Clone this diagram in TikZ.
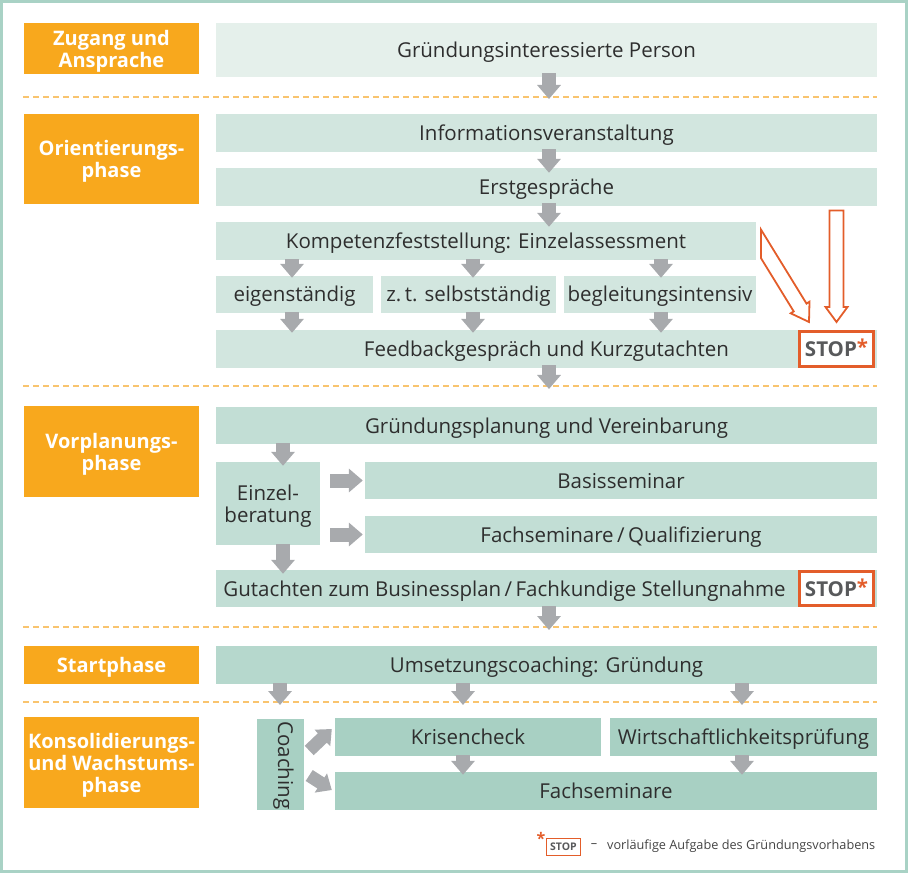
\documentclass[tikz,border=0pt]{standalone}
\usepackage{fontspec}
\setmainfont{Open Sans}
\usetikzlibrary{arrows.meta}
\definecolor{framec}{HTML}{A9D2C5}
\definecolor{orangec}{HTML}{F8A81D}
\definecolor{dashc}{HTML}{F9C46E}
\definecolor{fa}{HTML}{E5F0EB}
\definecolor{fb}{HTML}{D2E6DF}
\definecolor{fc}{HTML}{C2DED5}
\definecolor{fd}{HTML}{B6D8CD}
\definecolor{fe}{HTML}{A8D0C3}
\definecolor{arrowc}{HTML}{A8AAAD}
\definecolor{stopc}{HTML}{E35D2A}
\definecolor{stoptext}{HTML}{58595B}
\definecolor{textc}{HTML}{2E2E2E}
\definecolor{legc}{HTML}{444444}
\begin{document}
\begin{tikzpicture}[x=1pt,y=-1pt,
  basebox/.style={rectangle, inner sep=0pt, text=textc, font=\fontsize{20.5}{22}\selectfont},
  box/.style={basebox, text height=15pt, text depth=0pt},
  phase/.style={rectangle, inner sep=0pt, fill=orangec, text=white, align=center,
     minimum width=175pt, text depth=0pt, font=\bfseries\fontsize{20}{22}\selectfont},
  stopbox/.style={rectangle, inner sep=0pt, draw=stopc, line width=2.6pt, fill=white,
     minimum width=74pt, text=stoptext, text height=15pt, text depth=0pt,
     font=\bfseries\fontsize{20.5}{22}\selectfont},
  garrow/.style={draw=arrowc, line width=14pt, -{Triangle[length=14pt,width=23pt]}},
  sarrow/.style={draw=stopc, line width=1.8pt, line join=miter},
  sepline/.style={draw=dashc, line width=2pt, dash pattern=on 6pt off 4pt}
]
\useasboundingbox (0,0) rectangle (910,874);
\draw[framec, line width=3pt] (1.5,1.5) rectangle (906,871.5);

% phase labels
\node[phase, minimum height=51pt] (pz) at (111.5,48.5) {Zugang und\\Ansprache};
\node[phase, minimum height=90pt] (po) at (111.5,159) {Orientierungs-\\phase};
\node[phase, minimum height=91pt] (pv) at (111.5,451.5) {Vorplanungs-\\phase};
\node[phase, minimum height=38pt, text height=14.5pt] (ps) at (111.5,665) {Startphase};
\node[phase, minimum height=91pt] (pk) at (111.5,762.5) {Konsolidierungs-\\und Wachstums-\\phase};

% separators
\coordinate (d1) at (23,97);
\coordinate (d2) at (23,386);
\coordinate (d3) at (23,627);
\coordinate (d4) at (23,702);
\foreach \d in {d1,d2,d3,d4} \draw[sepline] (\d) -- (\d -| 877,0);
% arrow ends on the separators
\coordinate (e1) at (549,99);
\coordinate (e2) at (549,389);
\coordinate (e3) at (549,630);
\coordinate (e4a) at (280,705);
\coordinate (e4b) at (463,705);
\coordinate (e4c) at (742,705);

% boxes
\node[box, fill=fa, minimum width=661pt, minimum height=54pt] (person) at (546.5,50) {Gründungsinteressierte Person};
\node[box, fill=fb, minimum width=661pt, minimum height=38pt] (info) at (546.5,133) {Informationsveranstaltung};
\node[box, fill=fb, minimum width=661pt, minimum height=38pt] (erst) at (546.5,187) {Erstgespräche};
\node[box, fill=fb, minimum width=540pt, minimum height=38pt] (komp) at (486,241) {Kompetenzfeststellung: Einzelassessment};
\node[box, fill=fb, minimum width=157pt, minimum height=37pt] (eig) at (294.5,294.5) {eigenständig};
\node[box, fill=fb, minimum width=175pt, minimum height=37pt] (zt) at (468.5,294.5) {z.\,t. selbstständig};
\node[box, fill=fb, minimum width=192pt, minimum height=37pt] (beg) at (660,294.5) {begleitungsintensiv};
\node[box, fill=fb, minimum width=661pt, minimum height=38pt] (feed) at (546.5,349) {Feedbackgespräch und Kurzgutachten};
\node[stopbox, minimum height=35.5pt] (stopa) at (836.5,349) {STOP\textcolor{stopc}{\raisebox{2pt}{*}}};

\node[box, fill=fc, minimum width=661pt, minimum height=37pt] (plan) at (546.5,425.5) {Gründungsplanung und Vereinbarung};
\node[basebox, fill=fc, minimum width=104pt, minimum height=83pt, align=center, text depth=0pt] (einzel) at (268,503.5) {Einzel-\\beratung};
\node[box, fill=fc, minimum width=512pt, minimum height=37pt] (basis) at (621,480.5) {Basisseminar};
\node[box, fill=fc, minimum width=512pt, minimum height=37pt] (fachq) at (621,534.5) {Fachseminare\,/\,Qualifizierung};
\node[box, fill=fc, minimum width=661pt, minimum height=37pt] (gut) at (546.5,588.5) {};
\node[box] (guttext) at (504.5,588.5) {Gutachten zum Businessplan\,/\,Fachkundige Stellungnahme};
\node[stopbox, minimum height=34.5pt] (stopb) at (836.5,588.5) {STOP\textcolor{stopc}{\raisebox{2pt}{*}}};

\node[box, fill=fd, minimum width=661pt, minimum height=38pt] (ums) at (546.5,665) {Umsetzungscoaching: Gründung};

\node[box, fill=fe, minimum width=47pt, minimum height=91pt] (coach) at (280.5,764.5) {};
\node[box, rotate=-90] (coachtext) at (285.5,765.5) {Coaching};
\node[box, fill=fe, minimum width=266pt, minimum height=38pt] (kris) at (468,737) {Krisencheck};
\node[box, fill=fe, minimum width=267pt, minimum height=38pt] (wirt) at (743.5,737) {Wirtschaftlichkeitsprüfung};
\node[box, fill=fe, minimum width=542pt, minimum height=38pt] (fach) at (606,791) {Fachseminare};

% gray arrows
\draw[garrow] ([yshift=4pt]person.south -| e1) -- (e1);
\draw[garrow] ([yshift=3pt]info.south -| e1) -- ([yshift=-5pt]erst.north -| e1);
\draw[garrow] ([yshift=3pt]erst.south -| e1) -- ([yshift=-5pt]komp.north -| e1);
\draw[garrow] ([yshift=1pt]komp.south -| 292,0) -- ([yshift=-2pt]eig.north -| 292,0);
\draw[garrow] ([yshift=1pt]komp.south -| 473,0) -- ([yshift=-2pt]zt.north -| 473,0);
\draw[garrow] ([yshift=1pt]komp.south -| 661,0) -- ([yshift=-2pt]beg.north -| 661,0);
\draw[garrow] ([yshift=1pt]eig.south -| 292,0) -- ([yshift=-3pt]feed.north -| 292,0);
\draw[garrow] ([yshift=1pt]zt.south -| 473,0) -- ([yshift=-3pt]feed.north -| 473,0);
\draw[garrow] ([yshift=1pt]beg.south -| 661,0) -- ([yshift=-3pt]feed.north -| 661,0);
\draw[garrow] ([yshift=3pt]feed.south -| e2) -- (e2);
\draw[garrow] ([yshift=1pt]plan.south -| 283,0) -- ([yshift=-4pt]einzel.north -| 283,0);
\draw[garrow] ([xshift=10pt]einzel.east |- basis) -- ([xshift=-2pt]basis.west);
\draw[garrow] ([xshift=10pt]einzel.east |- fachq) -- ([xshift=-2pt]fachq.west);
\draw[garrow] ([yshift=1pt]einzel.south -| 283,0) -- ([yshift=-4pt]gut.north -| 283,0);
\draw[garrow] ([yshift=1pt]gut.south -| e3) -- (e3);
\draw[garrow] ([yshift=1pt]ums.south -| e4a) -- (e4a);
\draw[garrow] ([yshift=1pt]ums.south -| e4b) -- (e4b);
\draw[garrow] ([yshift=1pt]ums.south -| e4c) -- (e4c);
\draw[garrow, line width=13pt, -{Triangle[length=13pt,width=22pt]}] ([shift={(5pt,14pt)}]coach.east) -- ([shift={(-3pt,8pt)}]kris.west);
\draw[garrow, line width=13pt, -{Triangle[length=13pt,width=22pt]}] ([shift={(5pt,-11pt)}]coach.east) -- ([shift={(-3pt,1pt)}]fach.west);
\draw[garrow] ([yshift=1pt]kris.south -| 463,0) -- ([yshift=-3pt]fach.north -| 463,0);
\draw[garrow] ([yshift=1pt]wirt.south -| 742,0) -- ([yshift=-3pt]fach.north -| 742,0);

% STOP arrows (outlined)
\draw[sarrow] (829.5,210.5) -- (843.5,210.5) -- (843.5,307) -- (847.5,307) -- (836.5,322) -- (825.5,307) -- (829.5,307) -- cycle;
\draw[sarrow] (761,229.6) -- (806.5,303.6) -- (809.5,301.7) -- (809,322) -- (790.7,313.3) -- (793.7,311.4) -- (761,258.2) -- cycle;

% legend
\node[text=stopc, font=\bfseries\fontsize{16}{16}\selectfont] (legstar) at (541,838) {*};
\node[rectangle, draw=stopc, line width=1.3pt, minimum width=34pt, minimum height=17pt, inner sep=0pt,
      text=stoptext, font=\bfseries\fontsize{10.5}{12}\selectfont] (legstop) at (563.5,847) {STOP};
\node[text=legc, font=\fontsize{12.7}{14}\selectfont] (legdash) at (594,846) {–};
\node[anchor=west, inner sep=0pt, text=legc, font=\fontsize{12.7}{14}\selectfont] (legtext) at (607,846) {vorläufige Aufgabe des Gründungsvorhabens};
\end{tikzpicture}
\end{document}
